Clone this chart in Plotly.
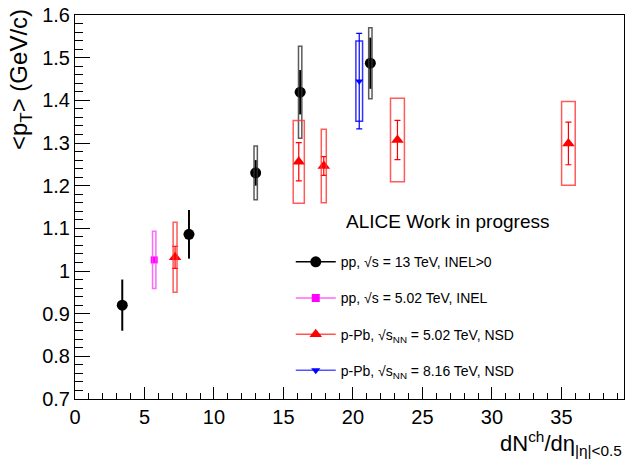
import plotly.graph_objects as go

# ---- data ----
pp13_x = [3.4, 8.2, 13.0, 16.2, 21.25]
pp13_y = [0.92, 1.086, 1.230, 1.419, 1.487]
pp13_stat = [0.06, 0.057, 0.03, 0.052, 0.06]
pp13_sys = [0.0, 0.0, 0.063, 0.108, 0.083]
pp13_xsys = [0.12, 0.12, 0.12, 0.12, 0.12]

pp5_x = [5.7]
pp5_y = [1.026]
pp5_stat = [0.0]
pp5_sys = [0.067]
pp5_xsys = [0.12]

ppb5_x = [7.2, 16.1, 17.9, 23.2, 35.5]
ppb5_y = [1.032, 1.256, 1.246, 1.307, 1.299]
ppb5_stat = [0.026, 0.045, 0.022, 0.046, 0.05]
ppb5_sys = [0.082, 0.097, 0.086, 0.098, 0.098]
ppb5_xsys = [0.14, 0.4, 0.18, 0.5, 0.49]

ppb8_x = [20.45]
ppb8_y = [1.445]
ppb8_stat = [0.112]
ppb8_sys = [0.094]
ppb8_xsys = [0.24]

legend_labels = [
    "pp, √s = 13 TeV, INEL>0",
    "pp, √s = 5.02 TeV, INEL",
    "p-Pb, √s<sub>NN</sub> = 5.02 TeV, NSD",
    "p-Pb, √s<sub>NN</sub> = 8.16 TeV, NSD",
]

FONT = "Liberation Sans, Arial, sans-serif"
fig = go.Figure()

series = [
    dict(x=pp13_x, y=pp13_y, st=pp13_stat, sy=pp13_sys, xs=pp13_xsys, color="black",
         box="#333333", sym="circle", size=11, ew=2, cap=0, lc="black"),
    dict(x=pp5_x, y=pp5_y, st=pp5_stat, sy=pp5_sys, xs=pp5_xsys, color="#ff00ff",
         box="#ff44ff", sym="square", size=7, ew=1, cap=0, lc="#ff66ff"),
    dict(x=ppb5_x, y=ppb5_y, st=ppb5_stat, sy=ppb5_sys, xs=ppb5_xsys, color="#ff0000",
         box="#ff3333", sym="triangle-up", size=11, ew=1.2, cap=3, lc="#ff5555"),
    dict(x=ppb8_x, y=ppb8_y, st=ppb8_stat, sy=ppb8_sys, xs=ppb8_xsys, color="#0000ff",
         box="#0000ff", sym="triangle-down", size=7, ew=1.2, cap=3, lc="#5555ff"),
]

shapes = []
for s in series:
    for xi, yi, sy, xs in zip(s["x"], s["y"], s["sy"], s["xs"]):
        if sy > 0:
            shapes.append(dict(type="rect", xref="x", yref="y",
                               x0=xi - xs, x1=xi + xs, y0=yi - sy, y1=yi + sy,
                               line=dict(color=s["box"], width=1.5),
                               fillcolor="rgba(0,0,0,0)", layer="above", opacity=0.8))

for i, s in enumerate(series):
    fig.add_trace(go.Scatter(
        x=s["x"], y=s["y"], mode="markers",
        marker=dict(symbol=s["sym"], size=s["size"], color=s["color"]),
        error_y=dict(type="data", array=s["st"], visible=True, color=s["color"],
                     thickness=s["ew"], width=s["cap"]),
        showlegend=False))

for i, s in enumerate(series):
    fig.add_trace(go.Scatter(
        x=[None], y=[None], mode="lines+markers", name=legend_labels[i],
        legendgroup=f"g{i}",
        line=dict(color=s["lc"], width=1.5),
        marker=dict(symbol=s["sym"], size=s["size"] if s["size"] > 8 else 8, color=s["color"])))

fig.update_layout(
    width=626, height=459,
    margin=dict(l=75, r=2, t=15, b=60),
    paper_bgcolor="white", plot_bgcolor="white",
    font=dict(family=FONT, color="black"),
    shapes=shapes,
    showlegend=True,
    legend=dict(x=0.393, y=0.398, xanchor="left", yanchor="top",
                font=dict(size=14, family=FONT), tracegroupgap=15,
                bgcolor="rgba(0,0,0,0)", itemwidth=40),
    xaxis=dict(range=[0, 39.5], showgrid=False, zeroline=False,
               showline=True, linecolor="black", linewidth=1, mirror=True,
               ticks="inside", ticklen=12, tickwidth=1, tickcolor="black",
               tick0=0, dtick=5, tickfont=dict(size=20),
               minor=dict(ticks="inside", ticklen=6, dtick=1, tickcolor="black")),
    yaxis=dict(range=[0.7, 1.6], showgrid=False, zeroline=False,
               showline=True, linecolor="black", linewidth=1, mirror=True,
               ticks="inside", ticklen=15, tickwidth=1, tickcolor="black",
               tick0=0.7, dtick=0.1, tickfont=dict(size=20),
               minor=dict(ticks="inside", ticklen=8, dtick=0.02, tickcolor="black")),
    annotations=[
        dict(text="ALICE Work in progress", xref="paper", yref="paper",
             x=0.49, y=0.461, xanchor="left", yanchor="middle", showarrow=False,
             font=dict(size=19, family=FONT)),
        dict(text="<p<sub>T</sub>> (GeV/c)", xref="paper", yref="paper",
             x=-0.13, y=1.02, xanchor="left", yanchor="top", textangle=-90,
             showarrow=False, font=dict(size=24, family=FONT)),
        dict(text="dN<sup>ch</sup>/dη<sub>|η|<0.5</sub>", xref="paper", yref="paper",
             x=1.0, y=-0.07, xanchor="right", yanchor="top", showarrow=False,
             font=dict(size=22, family=FONT)),
    ],
)

fig.write_html("out.html")
